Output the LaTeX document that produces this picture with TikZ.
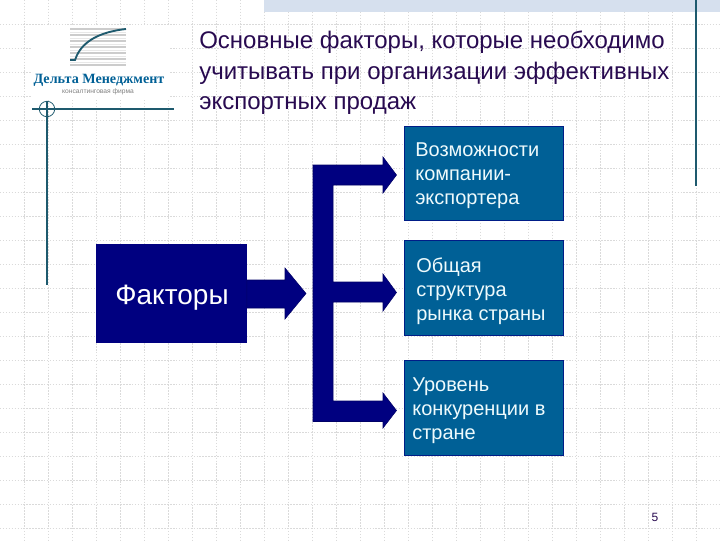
\documentclass[tikz,border=0pt]{standalone}
\usepackage{fontspec}
\setmainfont{Liberation Sans}
\newfontfamily\logofont{Liberation Serif}
\definecolor{navy1}{RGB}{0,0,128}
\definecolor{teal1}{RGB}{0,96,150}
\definecolor{tealline}{RGB}{30,90,110}
\definecolor{titlec}{RGB}{40,10,80}
\definecolor{gridc}{RGB}{218,218,218}
\definecolor{bandc}{RGB}{214,224,238}
\definecolor{boxtextc}{RGB}{238,250,252}
\begin{document}
\begin{tikzpicture}[x=0.75pt,y=-0.75pt,
  gridline/.style={gridc,line width=0.75pt,dash pattern=on 1.1pt off 1.1pt},
  rule/.style={tealline,line width=0.9pt},
  bluebox/.style={draw=navy1!70!teal1,line width=0.5pt,fill=teal1,inner sep=0pt},
  navybox/.style={draw=navy1,fill=navy1,inner sep=0pt},
  arrowshape/.style={fill=navy1,draw=navy1!80!black,line width=0.4pt,line join=miter},
  boxtext/.style={text=boxtextc,font=\fontsize{15pt}{18pt}\selectfont,align=left,anchor=west,inner sep=0pt},
  titletext/.style={text=titlec,font=\fontsize{18pt}{22.9pt}\selectfont,align=left,anchor=north west,inner sep=0pt}]
\useasboundingbox (0,0) rectangle (720,540);
\fill[white] (0,0) rectangle (720,540);
% background grid
\foreach \gx in {24,48,...,696} \draw[gridline] (\gx,0) -- (\gx,540);
\foreach \gy in {24,48,...,528} \draw[gridline] (0,\gy) -- (720,\gy);
\fill[bandc] (264,0) rectangle (720,12);
% white ground of the logo
\fill[white] (31,25) rectangle (170,100);
% corner rules
\draw[rule] (32,109) -- (174,109);
\draw[rule] (47,101) -- (47,285);
\draw[rule,line width=0.6pt] (47,109) circle[radius=7.7];
\draw[rule] (696,0) -- (696,186);
% logo
\foreach \ly in {29,35,41,47,53,59,65} \draw[gray!40,line width=1pt] (70,\ly) -- (126,\ly);
\foreach \ly in {32,38,44,50,56,62} \draw[gray!18,line width=0.7pt] (70,\ly) -- (126,\ly);
\draw[tealline,line width=1.4pt] (70,60) -- (75,60) .. controls (79,48) and (90,33) .. (126,29);
\node (logo) at (99,80.5) [inner sep=0pt,text=teal1,font=\logofont\bfseries\fontsize{10.6pt}{12pt}\selectfont] {Дельта Менеджмент};
\node (logosub) at (98,92) [inner sep=0pt,text=gray,font=\fontsize{5pt}{6pt}\selectfont] {консалтинговая фирма};
% title
\node (title) at (199,31) [titletext] {Основные факторы, которые необходимо\\учитывать при организации эффективных\\экспортных продаж};
% boxes
\node (factors) at (171.5,293) [navybox,minimum width=150pt*0.75,minimum height=98pt*0.75] {};
\node (ft) at (172,298) [inner sep=0pt,text=white,font=\fontsize{21pt}{24pt}\selectfont] {Факторы};
\node (box1) at (483.5,173) [bluebox,minimum width=159pt*0.75,minimum height=94pt*0.75] {};
\node (box2) at (483.5,287.5) [bluebox,minimum width=159pt*0.75,minimum height=95pt*0.75] {};
\node (box3) at (483.5,407.5) [bluebox,minimum width=159pt*0.75,minimum height=95pt*0.75] {};
\node (t1) at (415,175.5) [boxtext] {Возможности\\компании-\\экспортера};
\node (t2) at (416,291.5) [boxtext] {Общая\\структура\\рынка страны};
\node (t3) at (412,411) [boxtext] {Уровень\\конкуренции в\\стране};
% factor arrow
\draw[arrowshape] (factors.east |- 0,280) -- (285,280) -- (285,268) -- (306,293.5) -- (285,319) -- (285,308) -- (factors.east |- 0,308) -- cycle;
% bracket arrows
\draw[arrowshape] (313,165) -- (383,165) -- (383,157) -- (396.5,175) -- (383,193) -- (383,185) -- (333,185) -- (333,282) -- (383,282) -- (383,274) -- (396.5,292.5) -- (383,311) -- (383,302) -- (333,302) -- (333,401) -- (383,401) -- (383,393) -- (396.5,410.5) -- (383,428) -- (383,421.5) -- (313,421.5) -- cycle;
% page number
\node (page) at (655,517.5) [inner sep=0pt,text=titlec,font=\fontsize{9pt}{10pt}\selectfont] {5};
\end{tikzpicture}
\end{document}
